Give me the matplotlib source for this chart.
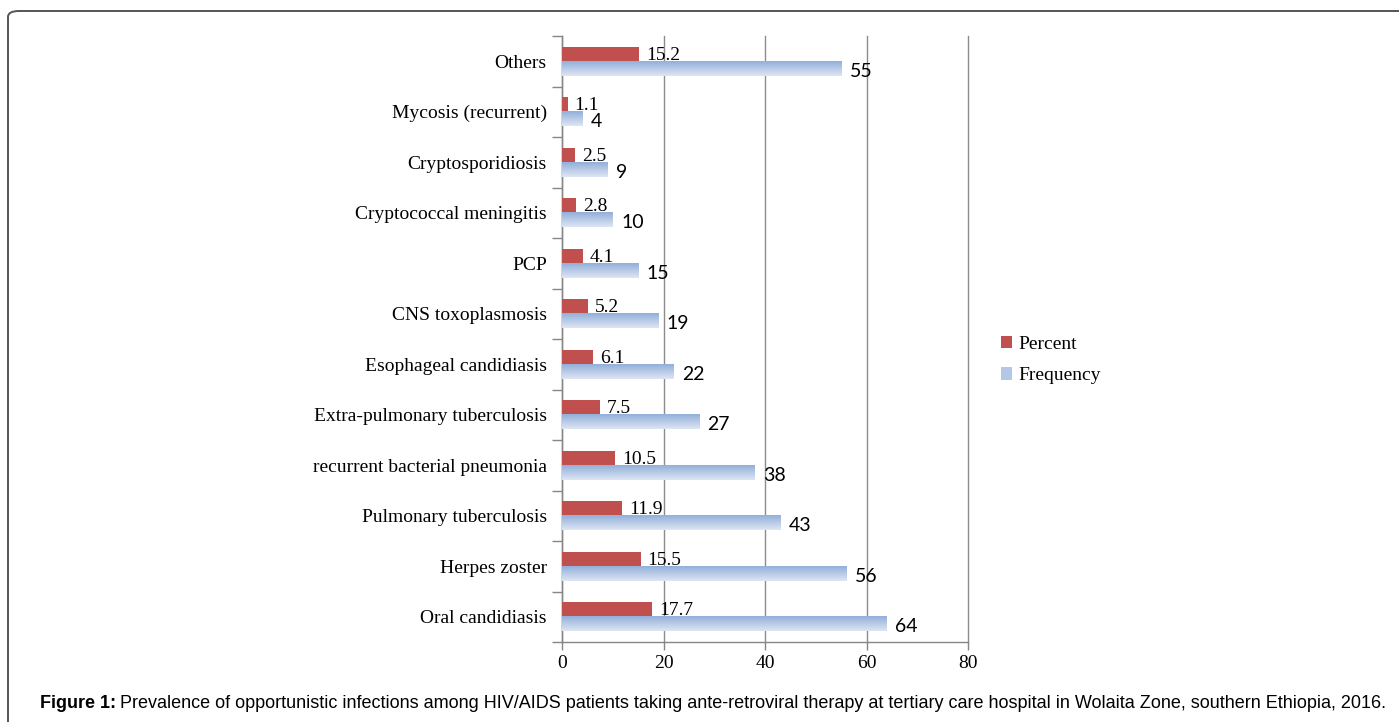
import matplotlib
matplotlib.use("Agg")
import matplotlib.pyplot as plt
import numpy as np
from matplotlib.patches import FancyBboxPatch, Patch
from matplotlib.colors import LinearSegmentedColormap

categories = ["Oral candidiasis", "Herpes zoster", "Pulmonary tuberculosis",
              "recurrent bacterial pneumonia", "Extra-pulmonary tuberculosis",
              "Esophageal candidiasis", "CNS toxoplasmosis", "PCP",
              "Cryptococcal meningitis", "Cryptosporidiosis",
              "Mycosis (recurrent)", "Others"]
percent = [17.7, 15.5, 11.9, 10.5, 7.5, 6.1, 5.2, 4.1, 2.8, 2.5, 1.1, 15.2]
frequency = [64, 56, 43, 38, 27, 22, 19, 15, 10, 9, 4, 55]
xticks = [0, 20, 40, 60, 80]

W, H = 1399, 722
fig = plt.figure(figsize=(W / 100, H / 100), dpi=100)
serif = "Liberation Serif"
FS = 14

# frame (rounded border that runs off the right and bottom edges)
frame = FancyBboxPatch((8 / W, -0.05), 1.2, 1 - 11 / H + 0.05,
                       boxstyle="round,pad=0,rounding_size=0.008",
                       transform=fig.transFigure, fill=False,
                       edgecolor="#555555", linewidth=1.4, zorder=0)
fig.patches.append(frame)

ax = fig.add_axes([562 / W, 1 - 642 / H, (968 - 562) / W, (642 - 36) / H])

y = np.arange(len(categories))
h = 0.29
red = "#C0504D"
bars_p = ax.barh(y + h / 2, percent, height=h, color=red, zorder=3)
bars_f = ax.barh(y - h / 2, frequency, height=h, color="none", zorder=3)

cmap = LinearSegmentedColormap.from_list("g", ["#DDE6F3", "#93AFDA"])
grad = np.linspace(0, 1, 64).reshape(-1, 1)
for b in bars_f:
    x0, y0, w, hh = b.get_x(), b.get_y(), b.get_width(), b.get_height()
    ax.imshow(grad, extent=[x0, x0 + w, y0, y0 + hh], origin="lower",
              aspect="auto", cmap=cmap, zorder=3, interpolation="bilinear")

for b, v in zip(bars_p, percent):
    ax.annotate(f"{v}", (b.get_width(), b.get_y() + b.get_height() / 2),
                xytext=(5, -1), textcoords="offset points", va="center",
                ha="left", fontsize=FS, family=serif, zorder=4)
for b, v in zip(bars_f, frequency):
    ax.annotate(f"{v}", (b.get_width(), b.get_y() + b.get_height() / 2),
                xytext=(6, -2), textcoords="offset points", va="center",
                ha="left", fontsize=FS, family="Lato", zorder=4)

ax.set_xlim(0, 80)
ax.set_ylim(-0.5, len(categories) - 0.5)
ax.set_xticks(xticks)
ax.set_xticklabels([str(t) for t in xticks], fontsize=FS, family=serif)
ax.set_yticks(y)
ax.set_yticklabels(categories, fontsize=FS, family=serif)
ax.set_yticks(np.arange(-0.5, len(categories), 1), minor=True)
ax.tick_params(axis="y", which="major", length=0, pad=11)
ax.tick_params(axis="y", which="minor", length=7, color="#868686", width=1)
ax.tick_params(axis="x", length=6, color="#868686", width=1, pad=3)
for s in ["top", "right"]:
    ax.spines[s].set_visible(False)
for s in ["left", "bottom"]:
    ax.spines[s].set_color("#868686")
    ax.spines[s].set_linewidth(1)
ax.set_axisbelow(True)
ax.grid(axis="x", color="#8C8C8C", linewidth=1)
for gl in ax.get_xgridlines():
    gl.set_clip_on(False)

handles = [Patch(facecolor=red), Patch(facecolor="#B4C7E7")]
fig.legend(handles, ["Percent", "Frequency"], loc="center left",
           bbox_to_anchor=(983 / W, 1 - 360 / H), frameon=False,
           prop={"family": serif, "size": FS}, handlelength=0.6,
           handleheight=0.6, handletextpad=0.3, labelspacing=0.75)

t1 = fig.text(40 / W, 1 - 703 / H, "Figure 1:", fontsize=13,
              family="Liberation Sans", weight="bold", va="center")
fig.canvas.draw()
bb = t1.get_window_extent()
fig.text((bb.x1 + 4) / W, 1 - 703 / H,
         "Prevalence of opportunistic infections among HIV/AIDS patients taking "
         "ante-retroviral therapy at tertiary care hospital in Wolaita Zone, "
         "southern Ethiopia, 2016.", fontsize=13, family="Liberation Sans",
         va="center")

fig.savefig("out.png", dpi=100)
